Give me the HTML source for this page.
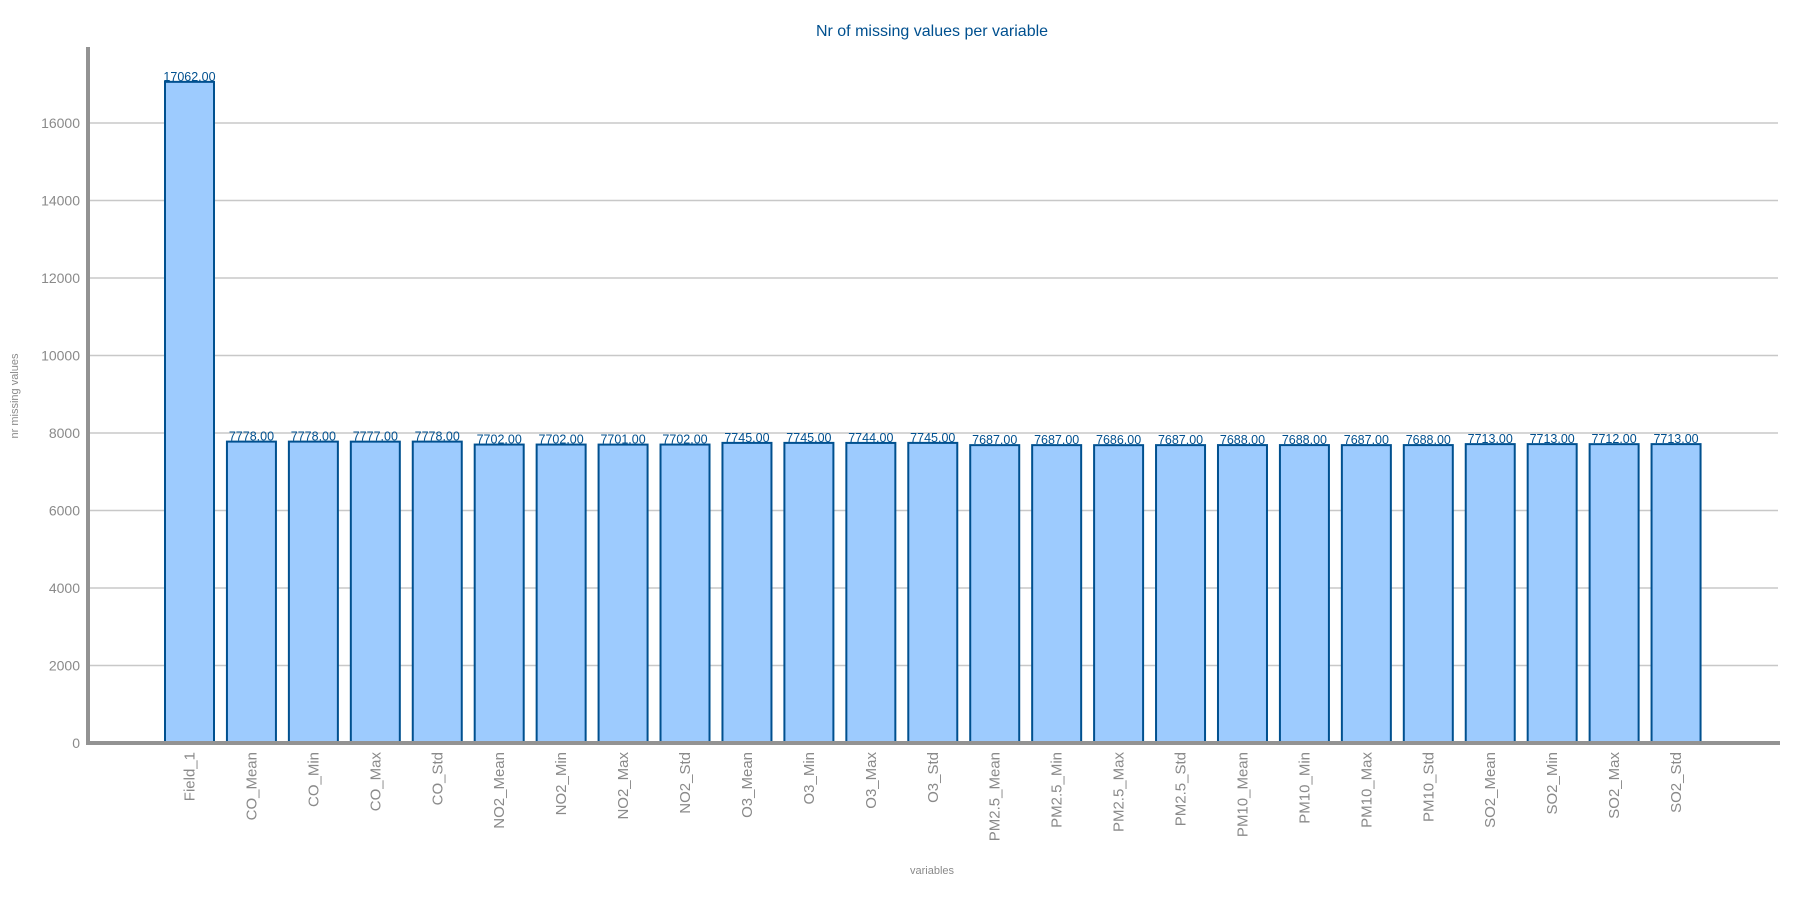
<!DOCTYPE html>
<html><head><meta charset="utf-8"><style>
body{margin:0;background:#fff;}
svg{display:block;font-family:"Liberation Sans",sans-serif;}
</style></head><body>
<svg id="chart" width="1800" height="900" xmlns="http://www.w3.org/2000/svg"></svg>
<script>
const categories=["Field_1","CO_Mean","CO_Min","CO_Max","CO_Std","NO2_Mean","NO2_Min","NO2_Max","NO2_Std","O3_Mean","O3_Min","O3_Max","O3_Std","PM2.5_Mean","PM2.5_Min","PM2.5_Max","PM2.5_Std","PM10_Mean","PM10_Min","PM10_Max","PM10_Std","SO2_Mean","SO2_Min","SO2_Max","SO2_Std"];
const values=[17062,7778,7778,7777,7778,7702,7702,7701,7702,7745,7745,7744,7745,7687,7687,7686,7687,7688,7688,7687,7688,7713,7713,7712,7713];
const yTicks=[0,2000,4000,6000,8000,10000,12000,14000,16000];
const NS="http://www.w3.org/2000/svg";
const svg=document.getElementById('chart');
const x0=88,x1=1780,yBase=743,pxPer=77.5/2000;
const y=v=>yBase-v*pxPer;
const firstC=189.5,step=61.94;
const xc=i=>firstC+i*step;
const bw=49;
function mk(tag,attrs,text){const e=document.createElementNS(NS,tag);for(const k in attrs)e.setAttribute(k,attrs[k]);if(text!==undefined)e.textContent=text;svg.appendChild(e);return e;}
let t=mk('text',{x:932,y:36,'text-anchor':'middle','font-size':16,fill:'#00508f'},'Nr of missing values per variable');


yTicks.forEach(v=>{
  if(v>0){const g=mk('line',{x1:x0,x2:x1-2,y1:y(v),y2:y(v),stroke:'#c8c8c8','stroke-width':1.5});
  
  }
  const l=mk('text',{x:80,y:y(v)+5,'text-anchor':'end','font-size':14,fill:'#8a8a8a'},String(v));
  
  
});
values.forEach((v,i)=>{
  const r=mk('rect',{x:xc(i)-bw/2,y:y(v),width:bw,height:yBase-y(v),fill:'#9dcbfe',stroke:'#00508f','stroke-width':2});
  
  
  const vl=mk('text',{x:xc(i),y:y(v)-1,'text-anchor':'middle','font-size':12.5,fill:'#00508f'},v.toFixed(2));
  
  
  const cl=mk('text',{x:0,y:0,'text-anchor':'end','font-size':15,fill:'#8a8a8a',transform:`translate(${xc(i)+5},752) rotate(-90)`},categories[i]);
  
  
});
let ya=mk('line',{x1:x0,x2:x0,y1:47,y2:745,stroke:'#939393','stroke-width':4});


let xa=mk('line',{x1:x0-2,x2:x1,y1:yBase,y2:yBase,stroke:'#939393','stroke-width':4});


let xt=mk('text',{x:932,y:874,'text-anchor':'middle','font-size':11,fill:'#8a8a8a'},'variables');


let yt=mk('text',{x:0,y:0,'text-anchor':'middle','font-size':11,fill:'#8a8a8a',transform:'translate(18,396) rotate(-90)'},'nr missing values');


</script>
</body></html>
